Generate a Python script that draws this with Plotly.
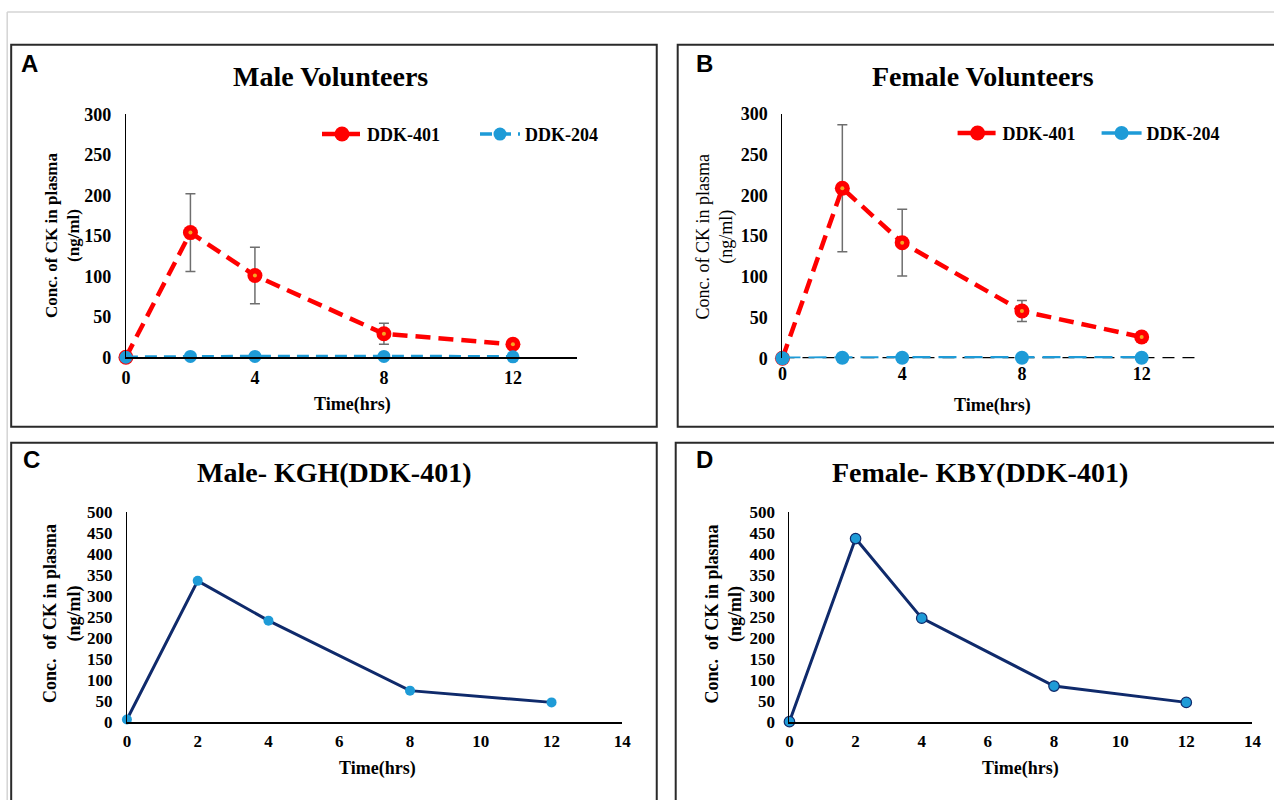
import plotly.graph_objects as go

W, H = 1274, 800

# ---------------- data ----------------
time_h = [0, 2, 4, 8, 12]
male_ddk401 = [0, 154, 101, 29, 16]
male_ddk401_err = [0, 48, 35, 13, 3]
male_ddk204 = [0, 1, 1, 1, 0.5]
female_ddk401 = [0, 209, 142, 58, 26]
female_ddk401_err = [0, 78, 41, 13, 6]
female_ddk204 = [0, 0.5, 0.5, 0.5, 0.5]
male_kgh = [5, 336, 241, 74, 46]
female_kby = [0, 437, 247, 85, 46]

x_ticks_ab = [0, 4, 8, 12]
y_ticks_ab = [0, 50, 100, 150, 200, 250, 300]
x_ticks_cd = [0, 2, 4, 6, 8, 10, 12, 14]
y_ticks_cd = [0, 50, 100, 150, 200, 250, 300, 350, 400, 450, 500]

panel_titles = ["Male Volunteers", "Female Volunteers", "Male- KGH(DDK-401)", "Female- KBY(DDK-401)"]
panel_letters = ["A", "B", "C", "D"]

# ---------------- style ----------------
SERIF = "Liberation Serif, Times New Roman, serif"
SANS = "Liberation Sans, Arial, sans-serif"
RED = "#ff0000"
ORANGE = "#f5a623"
BLUE = "#1e9bd7"
NAVY = "#0f2a6b"
ERR = "#6e6e6e"

# screen-pixel -> paper fraction (compensates the capture framing)
SX, OX = 0.992, 2.8
SY, OY = 0.980, 8.0


def fx(p):
    return ((p - OX) / SX) / W


def fy(p):
    return 1 - ((p - OY) / SY) / H


fig = go.Figure()

# ---- Panel A ----
fig.add_trace(go.Scatter(
    x=time_h, y=male_ddk401, name="<b>DDK-401</b>", xaxis="x", yaxis="y",
    mode="lines+markers", legend="legend",
    line=dict(color=RED, width=4.5, dash="15px,8px"),
    marker=dict(color=RED, size=15),
    error_y=dict(type="data", array=male_ddk401_err, visible=True, color=ERR, thickness=1.5, width=5),
    cliponaxis=False))
fig.add_trace(go.Scatter(
    x=time_h, y=male_ddk401, xaxis="x", yaxis="y", showlegend=False, hoverinfo="skip",
    mode="markers", marker=dict(color=ORANGE, size=4), cliponaxis=False))
fig.add_trace(go.Scatter(
    x=time_h, y=male_ddk204, name="<b>DDK-204</b>", xaxis="x", yaxis="y",
    mode="lines+markers", legend="legend",
    line=dict(color=BLUE, width=3.5, dash="12px,7px"),
    marker=dict(color=BLUE, size=13),
    cliponaxis=False))

# ---- Panel B ----
fig.add_trace(go.Scatter(
    x=time_h, y=female_ddk401, name="<b>DDK-401</b>", xaxis="x2", yaxis="y2",
    mode="lines+markers", legend="legend2",
    line=dict(color=RED, width=4.5, dash="15px,8px"),
    marker=dict(color=RED, size=15),
    error_y=dict(type="data", array=female_ddk401_err, visible=True, color=ERR, thickness=1.5, width=5),
    cliponaxis=False))
fig.add_trace(go.Scatter(
    x=time_h, y=female_ddk401, xaxis="x2", yaxis="y2", showlegend=False, hoverinfo="skip",
    mode="markers", marker=dict(color=ORANGE, size=4), cliponaxis=False))
fig.add_trace(go.Scatter(
    x=time_h, y=female_ddk204, name="<b>DDK-204</b>", xaxis="x2", yaxis="y2",
    mode="lines+markers", legend="legend2",
    line=dict(color=BLUE, width=3.5, dash="18px,8px"),
    marker=dict(color=BLUE, size=14),
    cliponaxis=False))

# ---- Panel C ----
fig.add_trace(go.Scatter(
    x=time_h, y=male_kgh, xaxis="x3", yaxis="y3", showlegend=False,
    mode="lines+markers",
    line=dict(color=NAVY, width=3),
    marker=dict(color=BLUE, size=10),
    cliponaxis=False))

# ---- Panel D ----
fig.add_trace(go.Scatter(
    x=time_h, y=female_kby, xaxis="x4", yaxis="y4", showlegend=False,
    mode="lines+markers",
    line=dict(color=NAVY, width=3),
    marker=dict(color=BLUE, size=10.5, line=dict(color=NAVY, width=1.2)),
    cliponaxis=False))


def xax(domain, ticks, anchor, showline=True, size=18):
    return dict(domain=domain, range=[0, 14], tickvals=ticks, ticktext=[str(t) for t in ticks],
                ticks="", showgrid=False, zeroline=False, showline=showline,
                linecolor="black", linewidth=2, anchor=anchor,
                tickfont=dict(family=SERIF, size=size, color="black", weight="bold"),
                ticklabelstandoff=3)


def yax(domain, rng, ticks, anchor, size=18):
    return dict(domain=domain, range=rng, tickvals=ticks, ticktext=[str(t) for t in ticks],
                ticks="", showgrid=False, zeroline=False, showline=True,
                linecolor="black", linewidth=1.2, anchor=anchor,
                tickfont=dict(family=SERIF, size=size, color="black", weight="bold"),
                ticklabelstandoff=10)


legend_common = dict(orientation="h", xanchor="left", yanchor="middle",
                     bgcolor="rgba(0,0,0,0)",
                     font=dict(family=SERIF, size=18, color="black"),
                     itemwidth=40, tracegroupgap=0)

fig.update_layout(
    width=W, height=H, margin=dict(l=0, r=0, t=0, b=0),
    paper_bgcolor="white", plot_bgcolor="white",
    xaxis=xax([fx(125), fx(577.5)], x_ticks_ab, "y"),
    yaxis=yax([fy(357), fy(113)], [0, 300], y_ticks_ab, "x"),
    xaxis2=xax([fx(783), fx(1203)], x_ticks_ab, "y2", showline=False),
    yaxis2=yax([fy(358), fy(112.7)], [0, 300], y_ticks_ab, "x2"),
    xaxis3=xax([fx(126), fx(622.5)], x_ticks_cd, "y3", size=17),
    yaxis3=yax([fy(723.3), fy(512.7)], [0, 500], y_ticks_cd, "x3", size=17),
    xaxis4=xax([fx(790), fx(1254)], x_ticks_cd, "y4", size=17),
    yaxis4=yax([fy(723.3), fy(512.7)], [0, 500], y_ticks_cd, "x4", size=17),
    legend=dict(x=fx(316.5), y=fy(133), entrywidth=103, **legend_common),
    legend2=dict(x=fx(953.5), y=fy(132), entrywidth=89, **legend_common),
    showlegend=True,
)

shapes = []
# light outer frame
shapes.append(dict(type="line", xref="paper", yref="paper", x0=fx(6), x1=1.01, y0=fy(10), y1=fy(10),
                   line=dict(color="#d4d4d4", width=1.5)))
shapes.append(dict(type="line", xref="paper", yref="paper", x0=fx(6), x1=fx(6), y0=fy(10), y1=-0.02,
                   line=dict(color="#d4d4d4", width=1.5)))
# panel borders
for (x0, y0, x1, y1) in [(10, 43, 657, 427), (678, 43, 1290, 427), (10, 443, 657, 820), (676, 443, 1290, 820)]:
    shapes.append(dict(type="rect", xref="paper", yref="paper", x0=fx(x0), x1=fx(x1), y0=fy(y0), y1=fy(y1),
                       line=dict(color="#2a2a2a", width=2), fillcolor="rgba(0,0,0,0)"))
# dashed baseline in panel B
shapes.append(dict(type="line", xref="x2 domain", yref="y2", x0=0, x1=1, y0=0, y1=0, layer="below",
                   line=dict(color="black", width=2.5, dash="12px,8px")))
fig.update_layout(shapes=shapes)

ann = []
# panel letters
for letter, (px, py) in zip(panel_letters, [(28, 62), (705, 62), (30, 460), (705, 460)]):
    ann.append(dict(text="<b>%s</b>" % letter, x=fx(px), y=fy(py), xref="paper", yref="paper",
                    showarrow=False, xanchor="center", yanchor="middle",
                    font=dict(family=SANS, size=24, color="black")))
# titles
for title, (px, py) in zip(panel_titles, [(330, 75), (984, 75), (334, 473), (981, 473)]):
    ann.append(dict(text="<b>%s</b>" % title, x=fx(px), y=fy(py), xref="paper", yref="paper",
                    showarrow=False, xanchor="center", yanchor="middle",
                    font=dict(family=SERIF, size=28, color="black")))
# x axis titles
for (px, py) in [(352, 405), (994, 406), (377, 770), (1022, 770)]:
    ann.append(dict(text="<b>Time(hrs)</b>", x=fx(px), y=fy(py), xref="paper", yref="paper",
                    showarrow=False, xanchor="center", yanchor="middle",
                    font=dict(family=SERIF, size=18, color="black")))
# y axis titles
ytitles = [
    ("<b>Conc. of CK in plasma</b><br><b>(ng/ml)</b>", 62, 235, 17),
    ("Conc. of CK in plasma<br>(ng/ml)", 715, 236, 18),
    ("<b>Conc.  of CK in plasma</b><br><b>(ng/ml)</b>", 61, 615, 18),
    ("<b>Conc.  of CK in plasma</b><br><b>(ng/ml)</b>", 724, 615, 18),
]
for (t, px, py, s) in ytitles:
    ann.append(dict(text=t, x=fx(px), y=fy(py), xref="paper", yref="paper", textangle=-90,
                    showarrow=False, xanchor="center", yanchor="middle",
                    font=dict(family=SERIF, size=s, color="black")))
fig.update_layout(annotations=ann)

fig.write_html("out.html", config={"displayModeBar": False},
               post_script="document.body.style.margin='0';document.body.style.overflow='hidden';")
